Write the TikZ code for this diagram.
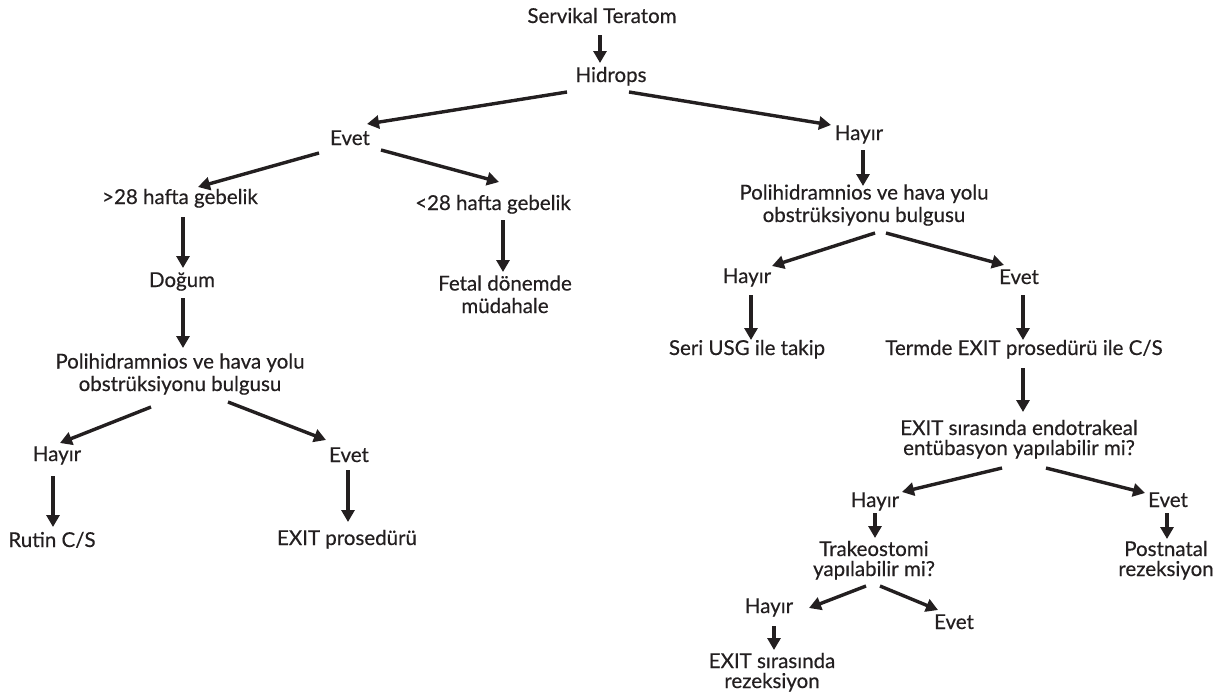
\documentclass[tikz,border=0pt]{standalone}
\usepackage{fontspec}
\setmainfont{Lato}[FakeBold=0.4]
\usetikzlibrary{arrows.meta}
\definecolor{ink}{HTML}{231F20}
\begin{document}
\begin{tikzpicture}[x=1pt,y=-1pt,
  lbl/.style={inner sep=0pt, anchor=base, align=center, text=ink, font=\fontsize{20.5}{22.5}\selectfont},
  tight/.style={font=\fontsize{20.5}{20}\selectfont},
  arr/.style={draw=ink, line width=3.4pt, -{Triangle[length=12pt,width=13pt]}}]
\fill[white] (0,0) rectangle (1226,699);
\useasboundingbox (0,0) rectangle (1226,699);
% nodes (anchor base = baseline of last line)
\node[lbl] (st) at (602,23) {Servikal Teratom};
\node[lbl] (hid) at (611,82) {Hidrops};
\node[lbl] (ev1) at (350,145) {Evet};
\node[lbl] (hy1) at (859,140) {Hayır};
\node[lbl] (g28) at (180,204) {>28 hafta gebelik};
\node[lbl] (l28) at (493,210) {<28 hafta gebelik};
\node[lbl] (dog) at (182,287) {Doğum};
\node[lbl] (fetal) at (505,313) {Fetal dönemde\\müdahale};
\node[lbl] (polL) at (180,391) {Polihidramnios ve hava yolu\\obstrüksiyonu bulgusu};
\node[lbl] (hyL) at (57,461) {Hayır};
\node[lbl] (evL) at (349,462) {Evet};
\node[lbl] (rutin) at (52,547) {Rutin C/S};
\node[lbl] (exitp) at (347,545) {EXIT prosedürü};
\node[lbl] (polR) at (864,222) {Polihidramnios ve hava yolu\\obstrüksiyonu bulgusu};
\node[lbl] (hyM) at (747,283) {Hayır};
\node[lbl] (evM) at (1019,284) {Evet};
\node[lbl] (seri) at (747,355) {Seri USG ile takip};
\node[lbl] (termde) at (1024,355) {Termde EXIT prosedürü ile C/S};
\node[lbl,tight] (exq) at (1019,455) {EXIT sırasında endotrakeal\\entübasyon yapılabilir mi?};
\node[lbl] (hyN) at (875,507) {Hayır};
\node[lbl] (evN) at (1168,507) {Evet};
\node[lbl,tight] (trak) at (874,576) {Trakeostomi\\yapılabilir mi?};
\node[lbl,tight] (post) at (1166,576) {Postnatal\\rezeksiyon};
\node[lbl] (hyO) at (769,613) {Hayır};
\node[lbl] (evO) at (954,629) {Evet};
\node[lbl,tight] (exr) at (772,688) {EXIT sırasında\\rezeksiyon};
% connectors
\draw[arr] ([shift={(-2,12)}]st.base) -- ([shift={(-11,-19)}]hid.base);
\draw[arr] ([shift={(-44,10)}]hid.base) -- ([shift={(17,-21)}]ev1.base);
\draw[arr] ([shift={(18,10)}]hid.base) -- ([shift={(-28,-15)}]hy1.base);
\draw[arr] ([shift={(-31,8)}]ev1.base) -- ([shift={(18,-17)}]g28.base);
\draw[arr] ([shift={(31,5)}]ev1.base) -- ([shift={(6,-28)}]l28.base);
\draw[arr] ([shift={(3,13)}]g28.base) -- ([shift={(1,-19)}]dog.base);
\draw[arr] ([shift={(10,10)}]l28.base) -- ([shift={(-2,-41)}]fetal.base);
\draw[arr] ([shift={(1,11)}]dog.base) -- ([shift={(3,-43)}]polL.base);
\draw[arr] ([shift={(-29,16)}]polL.base) -- ([shift={(3,-18)}]hyL.base);
\draw[arr] ([shift={(48,11)}]polL.base) -- ([shift={(-23,-22)}]evL.base);
\draw[arr] ([shift={(-4,15)}]hyL.base) -- ([shift={(1,-20)}]rutin.base);
\draw[arr] ([shift={(-1,8)}]evL.base) -- ([shift={(1,-23)}]exitp.base);
\draw[arr] ([shift={(4,10)}]hy1.base) -- ([shift={(-1,-36)}]polR.base);
\draw[arr] ([shift={(11,11)}]polR.base) -- ([shift={(25,-17)}]hyM.base);
\draw[arr] ([shift={(22,11)}]polR.base) -- ([shift={(-15,-19)}]evM.base);
\draw[arr] ([shift={(4,12)}]hyM.base) -- ([shift={(4,-15)}]seri.base);
\draw[arr] ([shift={(4,11)}]evM.base) -- ([shift={(-1,-15)}]termde.base);
\draw[arr] ([shift={(-1,13)}]termde.base) -- ([shift={(4,-43)}]exq.base);
\draw[arr] ([shift={(-17,13)}]exq.base) -- ([shift={(27,-15)}]hyN.base);
\draw[arr] ([shift={(27,13)}]exq.base) -- ([shift={(-23,-14)}]evN.base);
\draw[arr] ([shift={(0,6)}]hyN.base) -- ([shift={(1,-38)}]trak.base);
\draw[arr] ([shift={(-1,6)}]evN.base) -- ([shift={(1,-37)}]post.base);
\draw[arr] ([shift={(-8,10)}]trak.base) -- ([shift={(40,-5)}]hyO.base);
\draw[arr] ([shift={(6,10)}]trak.base) -- ([shift={(-16,-19)}]evO.base);
\draw[arr] ([shift={(5,13)}]hyO.base) -- ([shift={(2,-38)}]exr.base);
\end{tikzpicture}
\end{document}
